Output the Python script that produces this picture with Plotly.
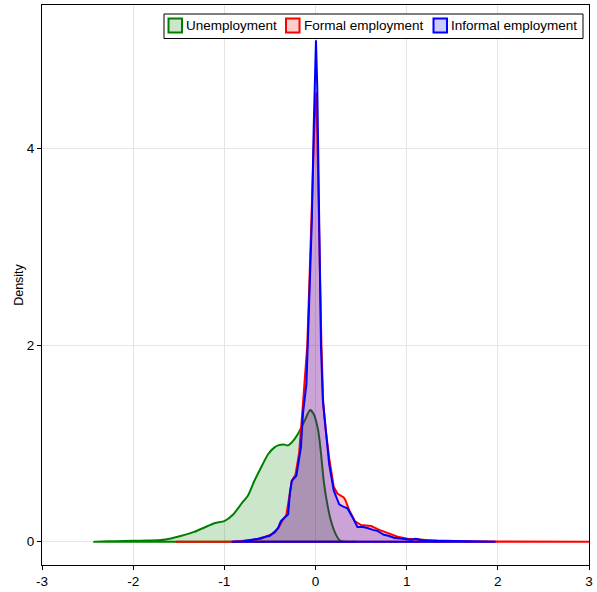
import plotly.graph_objects as go

# Unemployment density
unemp_x = [-2.43, -2.2, -2.0, -1.85, -1.7, -1.6, -1.47, -1.33, -1.18, -1.1, -1.0, -0.9, -0.81, -0.74,
           -0.67, -0.6, -0.52, -0.45, -0.41, -0.35, -0.30, -0.25, -0.19, -0.12, -0.06, -0.02, 0.03,
           0.06, 0.09, 0.13, 0.17, 0.22, 0.27, 0.35, 0.45]
unemp_y = [0.0, 0.005, 0.01, 0.012, 0.018, 0.03, 0.06, 0.1, 0.16, 0.19, 0.21, 0.28, 0.39, 0.47,
           0.62, 0.75, 0.89, 0.96, 0.98, 0.99, 0.98, 1.02, 1.10, 1.23, 1.34, 1.3, 1.13,
           0.9, 0.62, 0.38, 0.21, 0.08, 0.01, 0.0, 0.0]

# Formal employment density
formal_x = [-1.53, -1.0, -0.9, -0.7, -0.6, -0.5, -0.45, -0.4, -0.36, -0.32, -0.29, -0.26, -0.22,
            -0.18, -0.145, -0.09, -0.045, -0.01, 0.01, 0.03, 0.05, 0.065, 0.085, 0.11, 0.15, 0.2,
            0.24, 0.28, 0.31, 0.33, 0.37, 0.43, 0.5, 0.61, 0.7, 0.79, 0.9, 1.01, 1.2, 1.34, 1.6,
            2.0, 3.1]
formal_y = [0.0, 0.0, 0.003, 0.015, 0.03, 0.07, 0.09, 0.15, 0.22, 0.27, 0.45, 0.62, 0.68,
            0.9, 1.31, 2.0, 3.27, 4.3, 4.57, 3.5, 2.5, 2.0, 1.4, 1.15, 0.85, 0.56,
            0.49, 0.47, 0.45, 0.42, 0.32, 0.21, 0.17, 0.16, 0.12, 0.09, 0.05, 0.03, 0.02, 0.01, 0.005,
            0.001, 0.0]

# Informal employment density
informal_x = [-0.92, -0.8, -0.7, -0.63, -0.55, -0.5, -0.45, -0.41, -0.38, -0.34, -0.30, -0.28, -0.26,
              -0.21, -0.18, -0.16, -0.137, -0.10, -0.085, -0.06, -0.04, -0.02, 0.005, 0.02, 0.04,
              0.06, 0.08, 0.11, 0.15, 0.2, 0.23, 0.26, 0.30, 0.35, 0.40, 0.46, 0.52, 0.57, 0.63,
              0.68, 0.75, 0.8, 0.86, 0.95, 1.05, 1.1, 1.2, 1.4, 1.6, 1.975]
informal_y = [0.0, 0.005, 0.02, 0.03, 0.05, 0.06, 0.1, 0.14, 0.21, 0.25, 0.28, 0.5, 0.62,
              0.67, 0.85, 0.96, 1.31, 1.6, 2.0, 2.7, 3.27, 4.2, 5.1, 4.6, 3.27,
              2.0, 1.45, 1.13, 0.79, 0.52, 0.45, 0.38, 0.36, 0.34, 0.26, 0.15, 0.15, 0.14, 0.12,
              0.11, 0.07, 0.06, 0.04, 0.03, 0.02, 0.03, 0.01, 0.01, 0.005, 0.0]

series_names = ["Unemployment", "Formal employment", "Informal employment"]
line_colors = ["green", "red", "blue"]
fill_colors = ["rgba(0,128,0,0.2)", "rgba(255,0,0,0.2)", "rgba(0,0,255,0.2)"]
series_x = [unemp_x, formal_x, informal_x]
series_y = [unemp_y, formal_y, informal_y]
shapes_kind = ["spline", "linear", "linear"]

W, H = 597, 592
ML, MR, MT, MB = 42, 8, 5, 27
PW, PH = W - ML - MR, H - MT - MB


def px_x(p):
    return (p - ML) / PW


def px_y(p):
    return (H - MB - p) / PH


fig = go.Figure()
for name, xs, ys, lc, fc, shape in zip(series_names, series_x, series_y, line_colors, fill_colors, shapes_kind):
    fig.add_trace(go.Scatter(
        x=list(xs) + [xs[0]], y=list(ys) + [0],
        mode="lines", fill="toself", fillcolor=fc,
        line=dict(color=lc, width=2, shape=shape, smoothing=0.6 if shape == "spline" else None),
        name=name, showlegend=False, hoverinfo="skip",
    ))

# Manual legend (box, swatches, labels)
shapes = [dict(type="rect", xref="paper", yref="paper",
               x0=px_x(164), x1=px_x(583), y0=px_y(38.5), y1=px_y(14),
               line=dict(color="black", width=1), fillcolor="white", layer="above")]
annotations = []
swatch_left = [168.5, 286, 433.5]
for i, name in enumerate(series_names):
    sx = swatch_left[i]
    shapes.append(dict(type="rect", xref="paper", yref="paper",
                       x0=px_x(sx), x1=px_x(sx + 13.5), y0=px_y(32.5), y1=px_y(18.5),
                       line=dict(color=line_colors[i], width=2), fillcolor=fill_colors[i],
                       layer="above"))
    annotations.append(dict(xref="paper", yref="paper", x=px_x(sx + 15.5), y=px_y(25.5),
                            xanchor="left", yanchor="middle", text=name, showarrow=False,
                            font=dict(size=13.5, color="black")))

font = dict(family="Liberation Sans, Arial, sans-serif", size=13.5, color="black")
fig.update_layout(
    width=W, height=H,
    margin=dict(l=ML, r=MR, t=MT, b=MB),
    paper_bgcolor="white", plot_bgcolor="white",
    font=font,
    showlegend=False,
    shapes=shapes, annotations=annotations,
    xaxis=dict(range=[-3, 3], tickvals=[-3, -2, -1, 0, 1, 2, 3],
               ticktext=["-3", "-2", "-1", "0", "1", "2", "3"], automargin=False,
               showgrid=True, gridcolor="#e5e5e5", zeroline=False,
               showline=True, linecolor="black", linewidth=1, mirror=True,
               ticks="outside", ticklen=4, tickcolor="black"),
    yaxis=dict(range=[-0.237, 5.46], tickvals=[0, 2, 4], automargin=False,
               showgrid=True, gridcolor="#e5e5e5", zeroline=False,
               showline=True, linecolor="black", linewidth=1, mirror=True,
               ticks="outside", ticklen=4, tickcolor="black",
               title=dict(text="Density", standoff=0, font=dict(size=12.5))),
)

fig.write_html("out.html", config={"displayModeBar": False},
               post_script="document.body.style.margin='0';")
